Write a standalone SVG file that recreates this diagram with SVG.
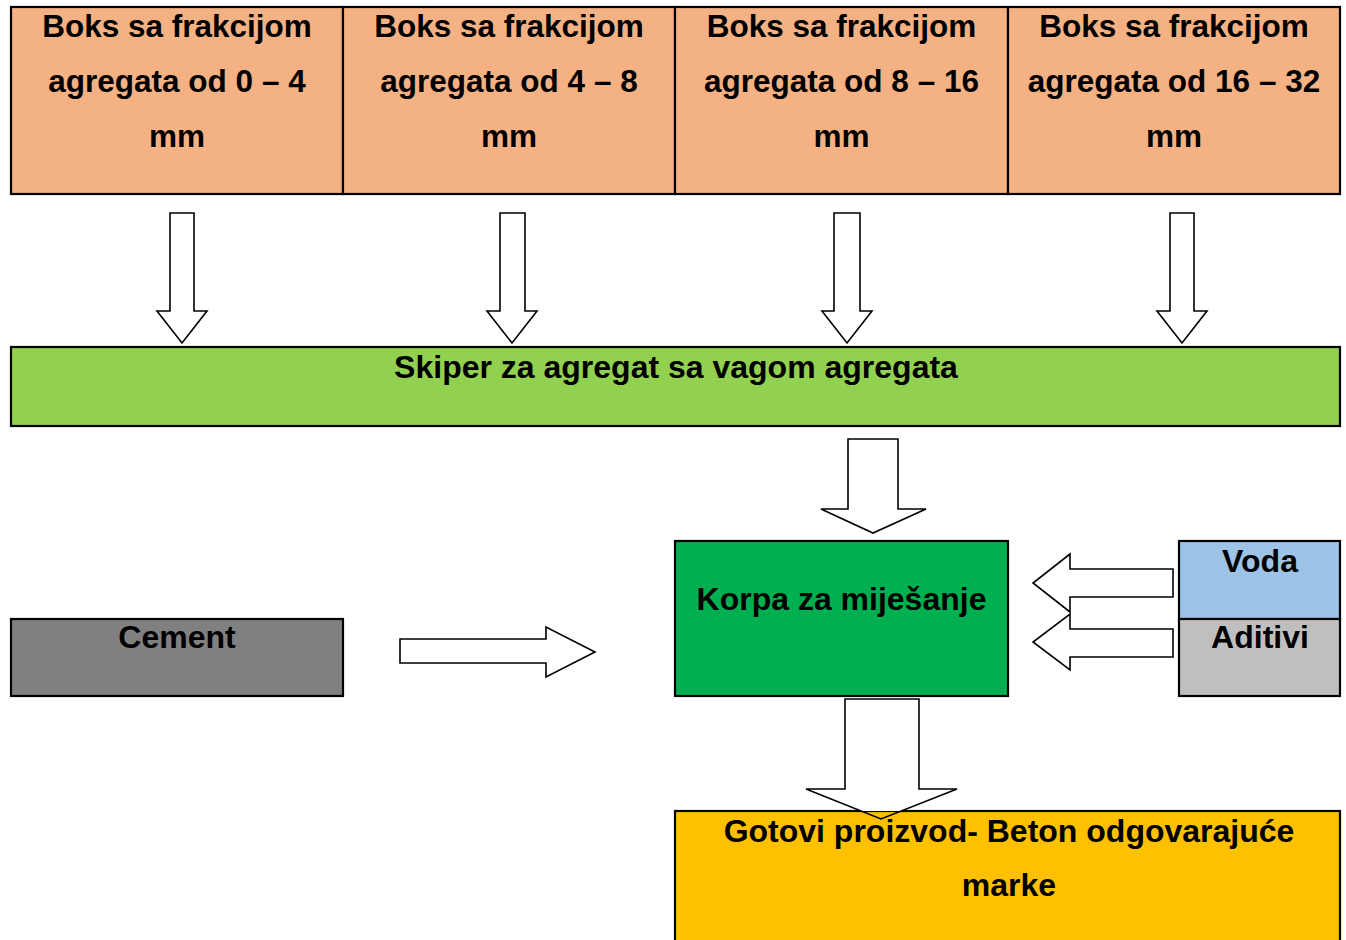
<svg xmlns="http://www.w3.org/2000/svg" width="1346" height="940" viewBox="0 0 1346 940">
<style>
  .box { stroke: #000; stroke-width: 2.2; }
  .t { font-family: "Liberation Sans", Arial, sans-serif; font-weight: bold; font-size: 32px; fill: #000; text-anchor: middle; }
  .tt { font-size: 31.5px; }
  .arr { fill: #fff; stroke: #000; stroke-width: 1.6; stroke-linejoin: miter; }
</style>
<defs>
  <linearGradient id="bottomFill" gradientUnits="userSpaceOnUse" x1="0" y1="699" x2="0" y2="819">
    <stop offset="0.93" stop-color="#fff" stop-opacity="1"/>
    <stop offset="0.93" stop-color="#fff" stop-opacity="0"/>
  </linearGradient>
</defs>
<rect width="1346" height="940" fill="#fff"/>

<g id="box-0-4">
  <rect class="box" x="11" y="7" width="332" height="187" fill="#F4B183"/>
  <text class="t tt" x="177" y="37">Boks sa frakcijom</text>
  <text class="t tt" x="177" y="92">agregata od 0 – 4</text>
  <text class="t tt" x="177" y="147">mm</text>
</g>
<g id="box-4-8">
  <rect class="box" x="343" y="7" width="332" height="187" fill="#F4B183"/>
  <text class="t tt" x="509" y="37">Boks sa frakcijom</text>
  <text class="t tt" x="509" y="92">agregata od 4 – 8</text>
  <text class="t tt" x="509" y="147">mm</text>
</g>
<g id="box-8-16">
  <rect class="box" x="675" y="7" width="333" height="187" fill="#F4B183"/>
  <text class="t tt" x="841.5" y="37">Boks sa frakcijom</text>
  <text class="t tt" x="841.5" y="92">agregata od 8 – 16</text>
  <text class="t tt" x="841.5" y="147">mm</text>
</g>
<g id="box-16-32">
  <rect class="box" x="1008" y="7" width="332" height="187" fill="#F4B183"/>
  <text class="t tt" x="1174" y="37">Boks sa frakcijom</text>
  <text class="t tt" x="1174" y="92">agregata od 16 – 32</text>
  <text class="t tt" x="1174" y="147">mm</text>
</g>

<g id="skiper">
  <rect class="box" x="11" y="347" width="1329" height="79" fill="#92D050"/>
  <text class="t" x="676" y="378">Skiper za agregat sa vagom agregata</text>
</g>

<g id="korpa">
  <rect class="box" x="675" y="541" width="333" height="155" fill="#00B050"/>
  <text class="t" x="841.5" y="609.5">Korpa za miješanje</text>
</g>

<g id="voda">
  <rect class="box" x="1179" y="541" width="161" height="78" fill="#9DC3E6"/>
  <text class="t" x="1260" y="572">Voda</text>
</g>

<g id="aditivi">
  <rect class="box" x="1179" y="619" width="161" height="77" fill="#BFBFBF"/>
  <text class="t" x="1260" y="648">Aditivi</text>
</g>

<g id="cement">
  <rect class="box" x="11" y="619" width="332" height="77" fill="#808080"/>
  <text class="t" x="177" y="648">Cement</text>
</g>

<g id="gotovi">
  <rect class="box" x="675" y="811" width="665" height="140" fill="#FFC000"/>
  <text class="t" x="1009" y="842">Gotovi proizvod- Beton odgovarajuće</text>
  <text class="t" x="1009" y="896">marke</text>
</g>

<g id="connectors">
  <polygon class="arr" points="170,213 194,213 194,311 207,311 182,343 157,311 170,311"/>
  <polygon class="arr" points="500,213 525,213 525,311 537,311 512,343 487,311 500,311"/>
  <polygon class="arr" points="834,213 860,213 860,311 872,311 847,343 822,311 834,311"/>
  <polygon class="arr" points="1170,213 1194,213 1194,311 1207,311 1182,343 1157,311 1170,311"/>
  <polygon class="arr" points="848,439 898,439 898,509 926,509 873,533 821,509 848,509"/>
  <polygon class="arr" points="1173,569 1070,569 1070,554 1033,583 1070,612 1070,597 1173,597"/>
  <polygon class="arr" points="1173,629 1070,629 1070,614 1033,642 1070,670 1070,657 1173,657"/>
  <polygon class="arr" points="400,639 546,639 546,627 595,652 546,677 546,663 400,663"/>
  <polygon class="arr" style="fill:url(#bottomFill)" points="845,699 919,699 919,789 957,789 881,819 806,789 845,789"/>
</g>
</svg>
